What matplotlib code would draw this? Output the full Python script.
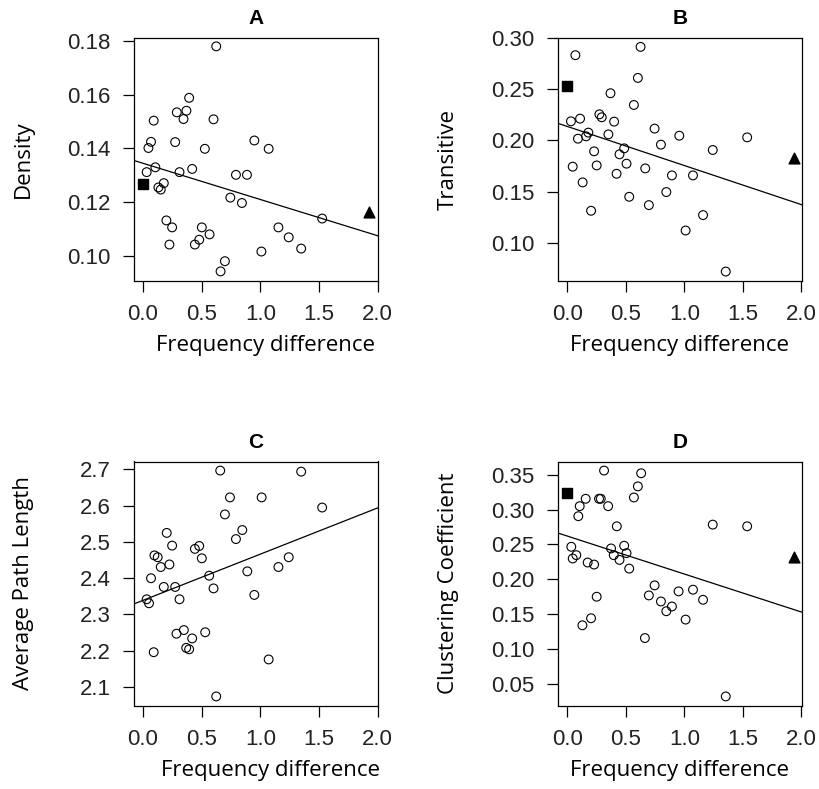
import matplotlib
matplotlib.use("Agg")
import matplotlib.pyplot as plt

# -----------------------------
# Data
# -----------------------------
# A: Density
a_x = [0.624, 0.393, 0.288, 0.370, 0.345, 0.091, 0.601, 0.068, 0.046, 0.274,
       0.527, 0.949, 1.071, 0.105, 0.031, 0.311, 0.419, 0.792, 0.886, 0.177,
       0.131, 0.151, 0.744, 0.843, 0.199, 0.248, 1.527, 0.501, 0.567, 1.154,
       1.242, 0.225, 0.479, 0.442, 1.348, 1.009, 0.698, 0.661]
a_y = [0.178, 0.1588, 0.1534, 0.154, 0.1509, 0.1503, 0.1508, 0.1424, 0.1401, 0.1423,
       0.1398, 0.1429, 0.1398, 0.1329, 0.1311, 0.1311, 0.1323, 0.1301, 0.1301, 0.127,
       0.1254, 0.1246, 0.1216, 0.1196, 0.1131, 0.1105, 0.1138, 0.1105, 0.1079, 0.1105,
       0.1068, 0.1041, 0.1059, 0.1041, 0.1026, 0.1015, 0.0979, 0.0941]

# B: Transitive
b_x = [0.626, 0.069, 0.603, 0.369, 0.569, 0.031, 0.109, 0.274, 0.294, 0.400,
       0.180, 0.160, 0.091, 0.351, 0.746, 0.957, 1.537, 0.800, 0.486, 0.229,
       0.446, 1.243, 0.046, 0.251, 0.506, 0.666, 0.421, 0.894, 1.074, 0.131,
       0.846, 0.529, 0.697, 0.203, 1.160, 1.011, 1.354]
b_y = [0.2909, 0.2828, 0.2607, 0.2458, 0.2344, 0.2185, 0.2211, 0.2253, 0.2224, 0.2182,
       0.2075, 0.2039, 0.2016, 0.2058, 0.2114, 0.2045, 0.2029, 0.1958, 0.1922, 0.1893,
       0.1864, 0.1906, 0.1744, 0.1756, 0.1773, 0.1727, 0.1675, 0.1659, 0.1659, 0.1591,
       0.1497, 0.1451, 0.137, 0.1315, 0.1273, 0.1123, 0.0724]

# C: Average Path Length
c_x = [0.658, 1.348, 0.741, 1.011, 0.698, 1.527, 0.846, 0.792, 0.202, 0.248,
       0.442, 0.479, 0.097, 0.125, 0.501, 1.242, 1.154, 0.151, 0.225, 0.889,
       0.564, 0.068, 0.177, 0.274, 0.601, 0.949, 0.311, 0.031, 0.051, 0.348,
       0.285, 0.530, 0.419, 0.368, 0.393, 0.091, 1.071, 0.624]
c_y = [2.697, 2.694, 2.623, 2.623, 2.576, 2.595, 2.533, 2.508, 2.525, 2.490,
       2.481, 2.489, 2.463, 2.458, 2.455, 2.458, 2.431, 2.431, 2.438, 2.419,
       2.407, 2.400, 2.376, 2.376, 2.372, 2.354, 2.342, 2.342, 2.331, 2.257,
       2.247, 2.251, 2.234, 2.208, 2.204, 2.196, 2.176, 2.074]

# D: Clustering Coefficient
d_x = [0.314, 0.631, 0.603, 0.569, 0.157, 0.271, 0.286, 0.106, 0.349, 0.094,
       0.423, 1.243, 1.537, 0.034, 0.486, 0.374, 0.077, 0.046, 0.397, 0.506,
       0.446, 0.174, 0.229, 0.529, 0.746, 0.697, 0.951, 1.074, 0.800, 1.160,
       0.894, 0.846, 0.251, 0.203, 0.129, 1.011, 0.663, 1.354]
d_y = [0.3559, 0.352, 0.3332, 0.3173, 0.3154, 0.3154, 0.3154, 0.3048, 0.3048, 0.2904,
       0.2759, 0.2783, 0.2759, 0.2465, 0.248, 0.2441, 0.2345, 0.2297, 0.2345, 0.2374,
       0.2277, 0.2239, 0.221, 0.2152, 0.1911, 0.1767, 0.1825, 0.1849, 0.168, 0.1704,
       0.1608, 0.154, 0.1748, 0.1439, 0.1338, 0.142, 0.1155, 0.0317]

# highlighted points: square (x, y) and triangle (x, y)
squares = [(0.0, 0.1268), (0.0, 0.2532), (0.0, 0.2315), (0.0, 0.3236)]
triangles = [(1.926, 0.1163), (1.937, 0.1831), (1.926, 0.2543), (1.937, 0.2316)]

# fitted lines: (intercept, slope)
fits = [(0.1344, -0.0135), (0.2135, -0.0380), (2.339, 0.1275), (0.2619, -0.0545)]

titles = ["A", "B", "C", "D"]
ylabels = ["Density", "Transitive", "Average Path Length", "Clustering Coefficient"]
yticks = [[0.10, 0.12, 0.14, 0.16, 0.18],
          [0.10, 0.15, 0.20, 0.25, 0.30],
          [2.1, 2.2, 2.3, 2.4, 2.5, 2.6, 2.7],
          [0.05, 0.10, 0.15, 0.20, 0.25, 0.30, 0.35]]
ytick_fmt = ["{:.2f}", "{:.2f}", "{:.1f}", "{:.2f}"]
ylims = [(0.0907, 0.1813), (0.0637, 0.2996), (2.049, 2.722), (0.0187, 0.3689)]
xticks = [0.0, 0.5, 1.0, 1.5, 2.0]
xs = [a_x, b_x, c_x, d_x]
ys = [a_y, b_y, c_y, d_y]

# axes positions (left, top, right, bottom) in pixels
W, H = 819, 789
boxes = [(134, 37.5, 378, 280.5), (558.3, 37.5, 801.7, 280.5),
         (134, 461.5, 378, 705.5), (558.3, 461.5, 801.7, 705.5)]
xlabel_x = [0.54, 0.5, 0.56, 0.5]

fig = plt.figure(figsize=(W / 100, H / 100), dpi=100)

for i in range(4):
    l, t, r, b = boxes[i]
    ax = fig.add_axes([l / W, 1 - b / H, (r - l) / W, (b - t) / H])
    ax.scatter(xs[i], ys[i], s=40, facecolors="none", edgecolors="black",
               linewidths=0.8, zorder=3)
    ax.scatter([squares[i][0]], [squares[i][1]], marker="s", s=48,
               color="black", zorder=4)
    ax.scatter([triangles[i][0]], [triangles[i][1]], marker="^", s=60,
               color="black", zorder=4)
    icpt, slope = fits[i]
    ax.axline((0, icpt), slope=slope, color="black", linewidth=0.9, zorder=2)

    ax.set_xlim(-0.077, 2.003)
    ax.set_ylim(*ylims[i])
    ax.set_xticks(xticks)
    ax.set_xticklabels(["{:.1f}".format(v) for v in xticks])
    ax.set_yticks(yticks[i])
    ax.set_yticklabels([ytick_fmt[i].format(v) for v in yticks[i]])
    ax.tick_params(direction="out", length=8, width=0.9, pad=9,
                   labelsize=16, colors="black")
    for lab in ax.get_xticklabels() + ax.get_yticklabels():
        lab.set_fontfamily("Liberation Sans")
        lab.set_color("#222222")
    for sp in ax.spines.values():
        sp.set_linewidth(0.9)

    ax.set_title(titles[i], fontfamily="Liberation Sans", fontweight="bold",
                 fontsize=15, pad=10)
    ax.set_xlabel("Frequency difference", fontfamily="Open Sans", fontsize=16)
    ax.set_ylabel(ylabels[i], fontfamily="Open Sans", fontsize=16)
    ax.xaxis.set_label_coords(xlabel_x[i], -0.225)
    ax.yaxis.set_label_coords(-0.41, 0.5)

fig.savefig("out.png", dpi=100)
